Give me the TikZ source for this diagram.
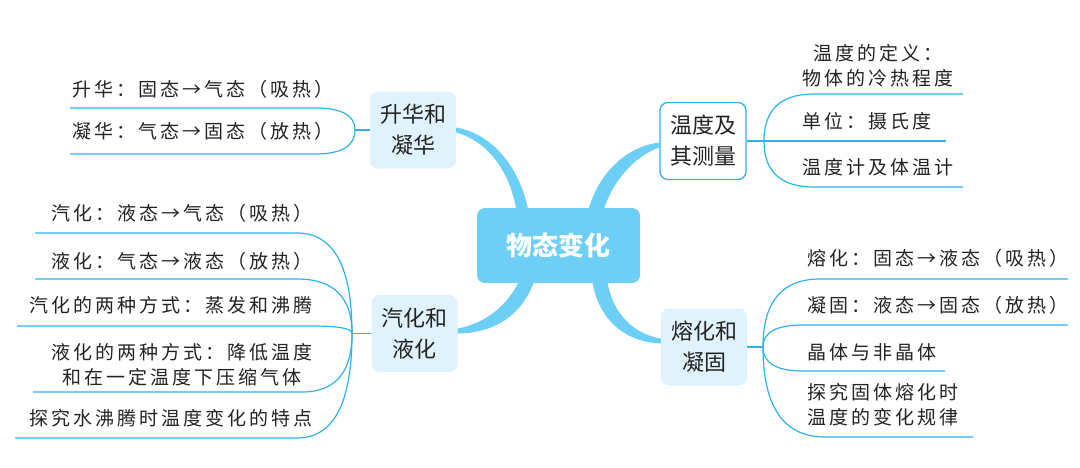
\documentclass[tikz,border=0pt]{standalone}
\usepackage{fontspec}
\newfontfamily\cjk{Noto Sans CJK SC}
\newfontfamily\cjkleaf[LetterSpace=16]{Noto Sans CJK SC}
\usepackage{tikz}
\usetikzlibrary{calc}
\definecolor{mapblue}{RGB}{110,207,246}
\definecolor{linkblue}{RGB}{45,178,236}
\definecolor{subfill}{RGB}{224,243,252}
\definecolor{inkgray}{RGB}{35,35,35}
\tikzset{
        topic/.style = {rectangle, rounded corners=8pt, fill=mapblue,
            text=white, minimum width=163, minimum height=75,
            font=\cjk\fontsize{26}{30}\selectfont\bfseries},
        sub/.style = {rectangle, rounded corners=8pt, fill=subfill,
            text=inkgray, align=center, inner sep=2pt,
            minimum width=86, minimum height=77,
            font=\cjk\fontsize{22}{31}\selectfont},
        subframe/.style = {sub, fill=white, draw=linkblue, line width=1.3pt},
        leaf/.style = {text=inkgray, inner sep=0pt,
            font=\cjkleaf\fontsize{19}{25}\selectfont},
        branch/.style = {fill=mapblue},
        leafline/.style = {draw=linkblue, line width=1.2pt},
        leftleaf/.style = {to path={.. controls ($(\tikztostart)!0.667!(\tikztostart |- \tikztotarget)$)
            and ($(\tikztostart |- \tikztotarget)+(-#1/3,0)$)
            .. ($(\tikztostart |- \tikztotarget)+(-#1,0)$) -- (\tikztotarget)}},
        rightleaf/.style = {to path={.. controls ($(\tikztostart)!0.667!(\tikztostart |- \tikztotarget)$)
            and ($(\tikztostart |- \tikztotarget)+(#1/3,0)$)
            .. ($(\tikztostart |- \tikztotarget)+(#1,0)$) -- (\tikztotarget)}},
    }
\begin{document}
\begin{tikzpicture}[x=1pt, y=-1pt]
		\useasboundingbox (0,0) rectangle (1080,467);
		\node[topic]    (wutai)     at (558.5,245.5)  {物态变化};
		\node[sub]      (shenghua)  at (413,130)      {升华和\\凝华};
		\node[sub]      (qihua)     at (414.5,333.5)  {汽化和\\液化};
		\node[subframe] (wendu)     at (703,141)      {温度及\\其测量};
		\node[sub]      (ronghua)   at (704,347)      {熔化和\\凝固};
		% thick branches
		\fill[branch] ($(shenghua.east)+(0,-2.5)$) .. controls +(36,6) and +(-8,-44) .. ($(wutai.north)+(-30,4)$)
		  -- ($(wutai.north)+(-42,4)$) .. controls +(-6,-40) and +(32,9) .. ($(shenghua.east)+(0,2.5)$) -- cycle;
		\fill[branch] ($(wendu.west)+(0,1.5)$) .. controls +(-31,3.5) and +(10,-40) .. ($(wutai.north)+(29.5,4)$)
		  -- ($(wutai.north)+(44.5,4)$) .. controls +(9,-30) and +(-25,8.5) .. ($(wendu.west)+(0,6.5)$) -- cycle;
		\fill[branch] ($(wutai.south)+(-23.5,-4)$) .. controls +(-13,37) and +(36.5,-0.5) .. (qihua.east)
		  -- ($(qihua.east)+(0,-5)$) .. controls +(28.5,-5.5) and +(-12,26) .. ($(wutai.south)+(-38.5,-4)$) -- cycle;
		\fill[branch] ($(wutai.south)+(33.5,-4)$) .. controls +(5,37) and +(-39,-1.5) .. ($(ronghua.west)+(0,-3.5)$)
		  -- ($(ronghua.west)+(0,-8.5)$) .. controls +(-32,-5.5) and +(4,29) .. ($(wutai.south)+(48.5,-4)$) -- cycle;
		% leaf texts
		\node[leaf, anchor=west]  (sh1) at (72,89)    {升华：固态→气态（吸热）};
		\node[leaf, anchor=west]  (sh2) at (72,131)   {凝华：气态→固态（放热）};
		\node[leaf, anchor=east]  (qh1) at (313,213)  {汽化：液态→气态（吸热）};
		\node[leaf, anchor=east]  (qh2) at (313,261)  {液化：气态→液态（放热）};
		\node[leaf, anchor=east]  (qh3) at (313,305)  {汽化的两种方式：蒸发和沸腾};
		\node[leaf, anchor=east, align=center] (qh4) at (313,364.5) {液化的两种方式：降低温度\\和在一定温度下压缩气体};
		\node[leaf, anchor=east]  (qh5) at (313,418)  {探究水沸腾时温度变化的特点};
		\node[leaf, anchor=west, align=center] (wd1) at (802,65.5) {温度的定义：\\物体的冷热程度};
		\node[leaf, anchor=west]  (wd2) at (802,121)  {单位：摄氏度};
		\node[leaf, anchor=west]  (wd3) at (802,167)  {温度计及体温计};
		\node[leaf, anchor=west]  (rh1) at (807,258)  {熔化：固态→液态（吸热）};
		\node[leaf, anchor=west]  (rh2) at (807,305)  {凝固：液态→固态（放热）};
		\node[leaf, anchor=west]  (rh3) at (807,352)  {晶体与非晶体};
		\node[leaf, anchor=west, align=left] (rh4) at (807,405) {探究固体熔化时\\温度的变化规律};
		% leaf lines
		\coordinate (bShenghua) at (355,130);
		\coordinate (bQihua)    at (352,333.5);
		\coordinate (bWendu)    at (764,141);
		\coordinate (bRonghua)  at (763,347);
		\coordinate (eSh1) at (70,108);
		\coordinate (eSh2) at (70,154);
		\coordinate (eQh1) at (35,233);
		\coordinate (eQh2) at (35,279);
		\coordinate (eQh3) at (17,326);
		\coordinate (eQh4) at (33,392);
		\coordinate (eQh5) at (15,438);
		\coordinate (eWd1) at (963,94);
		\coordinate (eWd2) at (946,141);
		\coordinate (eWd3) at (963,187);
		\coordinate (eRh1) at (1068,279);
		\coordinate (eRh2) at (1068,325);
		\coordinate (eRh3) at (945,371);
		\coordinate (eRh4) at (973,437);
		\path[leafline]
		(shenghua.west) edge (bShenghua)
		(bShenghua) edge[leftleaf=40]  (eSh1)
		(bShenghua) edge[leftleaf=40]  (eSh2);
		\path[leafline]
		(qihua.west) edge (bQihua)
		(bQihua) edge[leftleaf=55]  (eQh1)
		(bQihua) edge[leftleaf=55]  (eQh2)
		(bQihua) edge[leftleaf=40]  (eQh3)
		(bQihua) edge[leftleaf=50]  (eQh4)
		(bQihua) edge[leftleaf=55]  (eQh5);
		\path[leafline]
		(wendu.east) edge (bWendu)
		(bWendu) edge[rightleaf=50]  (eWd1)
		(bWendu) edge[rightleaf=50]  (eWd2)
		(bWendu) edge[rightleaf=50]  (eWd3);
		\path[leafline]
		(ronghua.east) edge (bRonghua)
		(bRonghua) edge[rightleaf=57]  (eRh1)
		(bRonghua) edge[rightleaf=40]  (eRh2)
		(bRonghua) edge[rightleaf=40]  (eRh3)
		(bRonghua) edge[rightleaf=62]  (eRh4);
\end{tikzpicture}
\end{document}
